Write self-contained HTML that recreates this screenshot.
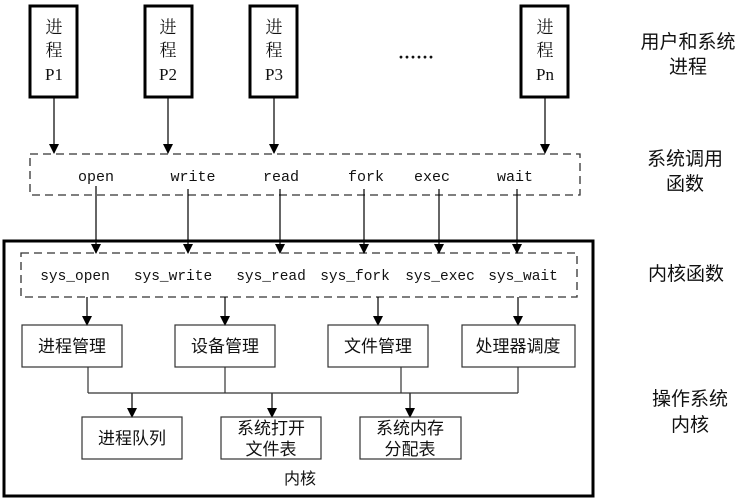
<!DOCTYPE html>
<html><head><meta charset="utf-8"><style>
html,body{margin:0;padding:0;background:#fff;}
svg text{font-family:"Liberation Serif","Noto Serif CJK SC",serif;fill:#111;}
svg .m text{font-family:"Liberation Mono","Noto Sans CJK SC",monospace;}
svg .c text{font-family:"Liberation Serif","Noto Sans CJK SC",sans-serif;}
</style></head><body>
<svg width="746" height="499" viewBox="0 0 746 499" xmlns="http://www.w3.org/2000/svg">
<defs><marker id="a" markerWidth="10" markerHeight="12" refX="9" refY="5" orient="auto" markerUnits="userSpaceOnUse"><path d="M0,0 L10,5 L0,10 Z" fill="#000"/></marker></defs>
<g fill="none" stroke="#000" stroke-width="3">
<rect x="30" y="6" width="47" height="91"/>
<rect x="145" y="6" width="47" height="91"/>
<rect x="250" y="6" width="47" height="91"/>
<rect x="521" y="6" width="47" height="91"/>
<rect x="4" y="241" width="589" height="255"/>
</g>
<g fill="none" stroke="#333" stroke-width="1.3" stroke-dasharray="8,5">
<rect x="30" y="154" width="550" height="41"/>
<rect x="21" y="253" width="556" height="44"/>
</g>
<g stroke="#000" stroke-width="1.2" marker-end="url(#a)">
<line x1="54" y1="97" x2="54" y2="153"/>
<line x1="168" y1="97" x2="168" y2="153"/>
<line x1="274" y1="97" x2="274" y2="153"/>
<line x1="545" y1="97" x2="545" y2="153"/>
<line x1="96" y1="186" x2="96" y2="253"/>
<line x1="188" y1="189" x2="188" y2="253"/>
<line x1="280" y1="189" x2="280" y2="253"/>
<line x1="364" y1="189" x2="364" y2="253"/>
<line x1="439" y1="189" x2="439" y2="253"/>
<line x1="517" y1="189" x2="517" y2="253"/>
<line x1="87" y1="297" x2="87" y2="325"/>
<line x1="225" y1="297" x2="225" y2="325"/>
<line x1="378" y1="297" x2="378" y2="325"/>
<line x1="518" y1="297" x2="518" y2="325"/>
<line x1="132" y1="393" x2="132" y2="417"/>
<line x1="272" y1="393" x2="272" y2="417"/>
<line x1="410" y1="393" x2="410" y2="417"/>
</g>
<g fill="none" stroke="#333" stroke-width="1.2">
<rect x="22" y="325" width="100" height="42"/>
<rect x="175" y="325" width="100" height="42"/>
<rect x="328" y="325" width="100" height="42"/>
<rect x="462" y="325" width="113" height="42"/>
<rect x="82" y="417" width="100" height="42"/>
<rect x="221" y="417" width="100" height="42"/>
<rect x="360" y="417" width="101" height="42"/>
<path d="M88,367 V393 M225,367 V393 M401,367 V393 M518,367 V393 M88,393 H518"/>
</g>
<g text-anchor="middle" font-size="17">
<text x="54" y="33">进</text><text x="54" y="56">程</text><text x="54" y="80">P1</text>
<text x="168" y="33">进</text><text x="168" y="56">程</text><text x="168" y="80">P2</text>
<text x="274" y="33">进</text><text x="274" y="56">程</text><text x="274" y="80">P3</text>
<text x="545" y="33">进</text><text x="545" y="56">程</text><text x="545" y="80">Pn</text>
<text x="416" y="63" font-size="18" font-weight="bold">······</text>
</g>
<g class="m" text-anchor="middle" font-size="15">
<text x="96" y="181">open</text><text x="193" y="181">write</text><text x="281" y="181">read</text>
<text x="366" y="181">fork</text><text x="432" y="181">exec</text><text x="515" y="181">wait</text>
</g>
<g class="m" text-anchor="middle" font-size="14.5">
<text x="75" y="280">sys_open</text><text x="173" y="280">sys_write</text><text x="271" y="280">sys_read</text>
<text x="355" y="280">sys_fork</text><text x="440" y="280">sys_exec</text><text x="523" y="280">sys_wait</text>
</g>
<g class="c" text-anchor="middle" font-size="17">
<text x="72" y="352">进程管理</text><text x="225" y="352">设备管理</text><text x="378" y="352">文件管理</text><text x="518" y="352">处理器调度</text>
<text x="132" y="444">进程队列</text>
<text x="271" y="434">系统打开</text><text x="271" y="455">文件表</text>
<text x="410" y="434">系统内存</text><text x="410" y="455">分配表</text>
<text x="300" y="484" font-size="16">内核</text>
</g>
<g class="c" text-anchor="middle" font-size="19">
<text x="688" y="48">用户和系统</text><text x="688" y="73">进程</text>
<text x="685" y="165">系统调用</text><text x="685" y="190">函数</text>
<text x="686" y="280">内核函数</text>
<text x="690" y="405">操作系统</text><text x="690" y="431">内核</text>
</g>
</svg>
</body></html>
